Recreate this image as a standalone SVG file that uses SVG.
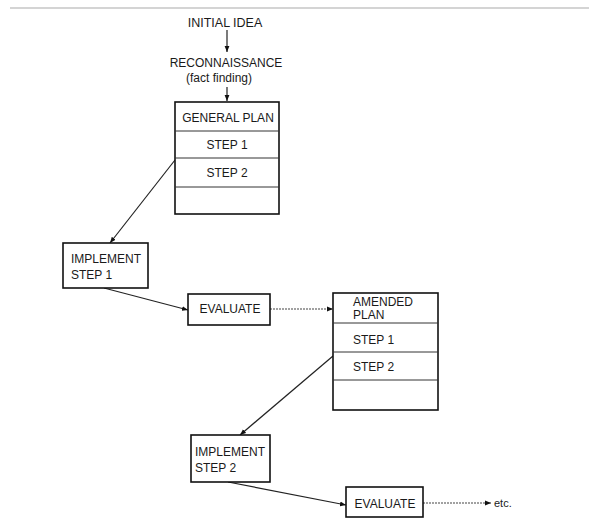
<svg xmlns="http://www.w3.org/2000/svg" width="589" height="520" viewBox="0 0 589 520">
<style>
text{font-family:"Liberation Sans",Arial,sans-serif;font-size:12px;fill:#1a1a1a}
.c{text-anchor:middle}
.box{fill:#fff;stroke:#111;stroke-width:1.6}
.div{stroke:#333;stroke-width:1}
.ln{stroke:#222;stroke-width:1.2;fill:none;marker-end:url(#ah)}
.dl{stroke:#444;stroke-width:1.2;fill:none;stroke-dasharray:2 1;marker-end:url(#ah)}
</style>
<defs>
<marker id="ah" viewBox="0 0 10 10" refX="10" refY="5" markerWidth="6" markerHeight="6" orient="auto" markerUnits="userSpaceOnUse">
<path d="M0,1 L10,5 L0,9 Z" fill="#111"/>
</marker>
</defs>
<rect width="589" height="520" fill="#fff"/>
<line x1="10" y1="8" x2="589" y2="8" stroke="#aaa" stroke-width="1.2"/>

<g id="connectors">
<line class="ln" x1="227" y1="30" x2="227" y2="52"/>
<line class="ln" x1="227" y1="87" x2="227" y2="101"/>
<line class="ln" x1="175" y1="160" x2="110" y2="243"/>
<line class="ln" x1="104" y1="288" x2="188" y2="310"/>
<line class="dl" x1="270" y1="309" x2="333" y2="309"/>
<line class="ln" x1="333" y1="356" x2="240" y2="435"/>
<line class="ln" x1="228" y1="482" x2="346" y2="505"/>
<line class="dl" x1="423" y1="503" x2="491" y2="503"/>
</g>

<g id="initial-idea"><text class="c" x="225" y="27" style="font-size:12.5px">INITIAL IDEA</text></g>
<g id="reconnaissance">
<text class="c" x="226" y="67">RECONNAISSANCE</text>
<text class="c" x="219" y="82">(fact finding)</text>
</g>

<g id="general-plan">
<rect class="box" x="175" y="102" width="104" height="112"/>
<line class="div" x1="175" y1="131" x2="279" y2="131"/>
<line class="div" x1="175" y1="158" x2="279" y2="158"/>
<line class="div" x1="175" y1="187" x2="279" y2="187"/>
<text class="c" x="228" y="122">GENERAL PLAN</text>
<text class="c" x="227" y="149">STEP 1</text>
<text class="c" x="227" y="177">STEP 2</text>
</g>

<g id="implement-1">
<rect class="box" x="63" y="243" width="85" height="45"/>
<text x="71" y="263">IMPLEMENT</text>
<text x="71" y="279">STEP 1</text>
</g>

<g id="evaluate-1">
<rect class="box" x="188" y="294" width="82" height="31"/>
<text class="c" x="230" y="313">EVALUATE</text>
</g>

<g id="amended-plan">
<rect class="box" x="333" y="293" width="105" height="117"/>
<line class="div" x1="333" y1="323" x2="438" y2="323"/>
<line class="div" x1="333" y1="352" x2="438" y2="352"/>
<line class="div" x1="333" y1="380" x2="438" y2="380"/>
<text x="353" y="306">AMENDED</text>
<text x="353" y="319">PLAN</text>
<text x="353" y="344">STEP 1</text>
<text x="353" y="371">STEP 2</text>
</g>

<g id="implement-2">
<rect class="box" x="191" y="435" width="79" height="47"/>
<text x="195" y="456">IMPLEMENT</text>
<text x="195" y="472">STEP 2</text>
</g>

<g id="evaluate-2">
<rect class="box" x="346" y="487" width="77" height="30"/>
<text class="c" x="385" y="508">EVALUATE</text>
</g>

<g id="etc"><text x="494" y="507" style="font-size:11px">etc.</text></g>
</svg>
